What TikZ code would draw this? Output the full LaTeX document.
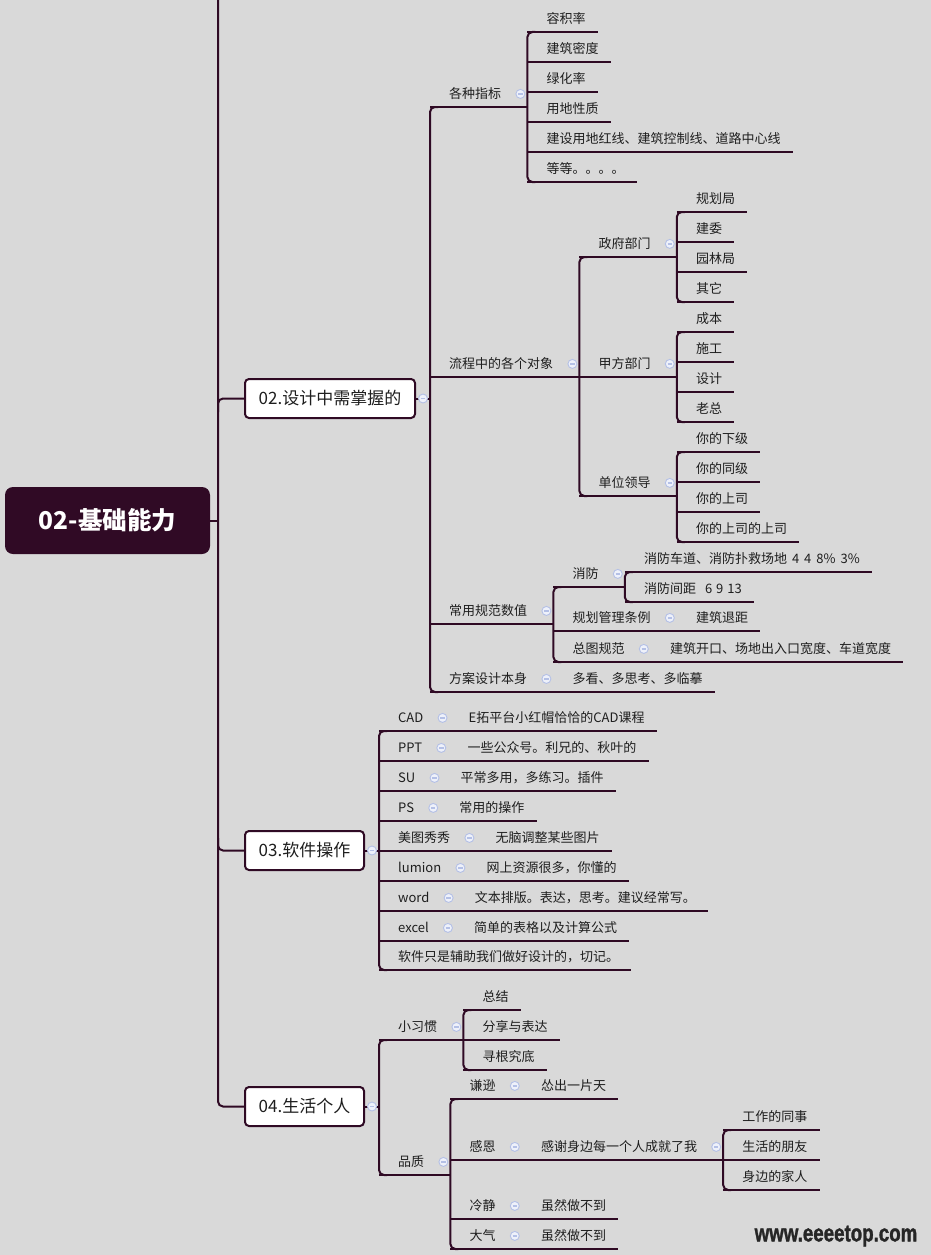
\documentclass[tikz,border=0pt]{standalone}
\usepackage{fontspec}
\usepackage{tikz}
\usetikzlibrary{positioning}
\newfontfamily\cjk{Noto Sans CJK SC}
\newfontfamily\wmfont[BoldFeatures={FakeBold=1.6}]{Liberation Sans}
\definecolor{cBg}   {HTML}{D9D9D9}
\definecolor{cLine} {HTML}{2F0A24}
\definecolor{cRoot} {HTML}{300A25}
\definecolor{cTxt}  {HTML}{1E1E1E}
\definecolor{cFold} {HTML}{B4C0E6}
\definecolor{cFoldIn}{HTML}{EEF1FA}
\tikzset{
  br/.style    ={draw=cLine,line width=2pt},
  brk/.style   ={br,rounded corners=5pt},
  lbl/.style   ={font=\cjk\fontsize{13}{15}\selectfont,text=cTxt,anchor=south west,
                 inner xsep=0pt,inner ysep=5pt,text height=10pt,text depth=3pt},
  ul/.style    ={lbl,execute at begin node={\hspace*{19pt}},
                 append after command={(\tikzlastnode.south west) edge[br] (\tikzlastnode.south east)}},
  leaf/.style  ={ul,execute at end node={\hspace*{12pt}}},
  sub/.style   ={ul,execute at end node={\hspace*{26pt}}},
  topic/.style ={draw=cLine,fill=white,line width=2pt,rounded corners=4pt,inner xsep=4pt,
                 font=\cjk\fontsize{17}{20}\selectfont,text=cTxt,minimum height=39pt},
  root/.style  ={fill=cRoot,text=white,rounded corners=8pt,minimum width=205pt,minimum height=67pt,
                 font=\cjk\bfseries\fontsize{24.5}{28}\selectfont},
  fold/.style  ={circle,draw=cFold,fill=cFoldIn,line width=0.9pt,minimum size=9pt,inner sep=0pt,
                 path picture={\draw[cFold,line width=1.2pt]
                   ([xshift=2.3pt]path picture bounding box.west) --
                   ([xshift=-2.3pt]path picture bounding box.east);}},
  wm/.style    ={font=\wmfont\bfseries\fontsize{24}{26}\selectfont,text=black!85,inner sep=0pt},
}

\begin{document}
\begin{tikzpicture}[x=1pt,y=-1pt]
\useasboundingbox[fill=cBg] (0,0) rectangle (931,1255);

% root, trunk and the three main topics
\coordinate (tk) at (218,-4);
\node[root] (rt) at (107.5,520.5) {02-基础能力};
\node[topic,minimum width=170pt] (t2) at (330,398.5)  {02.设计中需掌握的};
\node[topic,minimum width=119pt] (t3) at (304.5,850.5) {03.软件操作};
\node[topic,minimum width=119pt] (t4) at (304.5,1106.5) {04.生活个人};
\draw[brk] (tk) -- (tk |- t4.west) -- (t4.west);
\draw[br]  (rt.east) -- (rt.east -| tk);
\draw[brk] (tk |- 0,412) -- (tk |- t2.west) -- (t2.west);
\draw[brk] (tk |- 0,838) -- (tk |- t3.west) -- (t3.west);

% 02: indices
\node[sub]  (zb) at (430,107) {各种指标};
\node[leaf] (rj) at (zb.south east |- 0,32)  {容积率};
\node[leaf] (md) at (zb.south east |- 0,62)  {建筑密度};
\node[leaf] (lh) at (zb.south east |- 0,92)  {绿化率};
\node[leaf] (xz) at (zb.south east |- 0,122) {用地性质};
\node[leaf] (hx) at (zb.south east |- 0,152) {建设用地红线、建筑控制线、道路中心线};
\node[leaf] (dd) at (zb.south east |- 0,182) {等等。。。。};
\draw[brk] ([xshift=8pt]rj.south west) -- (rj.south west) -- (dd.south west) -- ([xshift=8pt]dd.south west);

% 02: parties in the process
\node[sub]  (lc)  at (430,377) {流程中的各个对象};
\node[sub]  (zf)  at (lc.south east |- 0,257) {政府部门};
\node[sub]  (jf)  at (lc.south east) {甲方部门};
\node[sub]  (dw)  at (lc.south east |- 0,496) {单位领导};
\draw[brk] ([xshift=8pt]zf.south west) -- (zf.south west) -- (dw.south west) -- ([xshift=8pt]dw.south west);
\node[leaf] (gj)  at (zf.south east |- 0,212) {规划局};
\node[leaf] (jw)  at (zf.south east |- 0,242) {建委};
\node[leaf] (yl)  at (zf.south east |- 0,272) {园林局};
\node[leaf] (qt)  at (zf.south east |- 0,302) {其它};
\draw[brk] ([xshift=8pt]gj.south west) -- (gj.south west) -- (qt.south west) -- ([xshift=8pt]qt.south west);
\node[leaf] (cb)  at (jf.south east |- 0,332) {成本};
\node[leaf] (sg)  at (jf.south east |- 0,362) {施工};
\node[leaf] (sj)  at (jf.south east |- 0,392) {设计};
\node[leaf] (lz)  at (jf.south east |- 0,422) {老总};
\draw[brk] ([xshift=8pt]cb.south west) -- (cb.south west) -- (lz.south west) -- ([xshift=8pt]lz.south west);
\node[leaf] (xj)  at (dw.south east |- 0,452) {你的下级};
\node[leaf] (tj)  at (dw.south east |- 0,482) {你的同级};
\node[leaf] (ss)  at (dw.south east |- 0,512) {你的上司};
\node[leaf] (sss) at (dw.south east |- 0,542) {你的上司的上司};
\draw[brk] ([xshift=8pt]xj.south west) -- (xj.south west) -- (sss.south west) -- ([xshift=8pt]sss.south west);

% 02: code values
\node[sub]  (cy) at (430,624) {常用规范数值};
\node[sub]  (xf) at (cy.south east |- 0,587) {消防};
\node[leaf] (cd) at (xf.south east |- 0,572)
  {消防车道、消防扑救场地\hspace{5pt}4\hspace{5pt}4\hspace{5pt}8\%\hspace{5pt}3\%};
\node[leaf] (jj) at (xf.south east |- 0,602) {消防间距\hspace{9pt}6\hspace{4pt}9\hspace{4pt}13};
\draw[brk] ([xshift=8pt]cd.south west) -- (cd.south west) -- (jj.south west) -- ([xshift=8pt]jj.south west);
\node[sub]  (gh) at (cy.south east |- 0,631) {规划管理条例};
\node[leaf] (tjl) at (gh.south east) {建筑退距};
\node[sub]  (zt) at (cy.south east |- 0,662) {总图规范};
\node[leaf] (kk) at (zt.south east) {建筑开口、场地出入口宽度、车道宽度};
\draw[brk] ([xshift=8pt]xf.south west) -- (xf.south west) -- (zt.south west) -- ([xshift=8pt]zt.south west);
\node[sub]  (fa) at (430,692) {方案设计本身};
\node[leaf] (dk) at (fa.south east) {多看、多思考、多临摹};
\draw[brk] ([xshift=8pt]zb.south west) -- (zb.south west) -- (fa.south west) -- ([xshift=8pt]fa.south west);
\draw[br] (t2.east) -- (t2.east -| zb.south west);

% 03: software
\node[sub]  (cad)  at (379,731) {CAD};
\node[leaf] (cadx) at (cad.south east) {E拓平台小红帽恰恰的CAD课程};
\node[sub]  (ppt)  at (379,761) {PPT};
\node[leaf] (pptx) at (ppt.south east) {一些公众号。利兄的、秋叶的};
\node[sub]  (su)   at (379,791) {SU};
\node[leaf] (sux)  at (su.south east) {平常多用，多练习。插件};
\node[sub]  (ps)   at (379,821) {PS};
\node[leaf] (psx)  at (ps.south east) {常用的操作};
\node[sub]  (mt)   at (379,851) {美图秀秀};
\node[leaf] (mtx)  at (mt.south east) {无脑调整某些图片};
\node[sub]  (lu)   at (379,881) {lumion};
\node[leaf] (lux)  at (lu.south east) {网上资源很多，你懂的};
\node[sub]  (wd)   at (379,911) {word};
\node[leaf] (wdx)  at (wd.south east) {文本排版。表达，思考。建议经常写。};
\node[sub]  (ex)   at (379,941) {excel};
\node[leaf] (exx)  at (ex.south east) {简单的表格以及计算公式};
\node[leaf] (note) at (379,970) {软件只是辅助我们做好设计的，切记。};
\draw[brk] ([xshift=8pt]cad.south west) -- (cad.south west) -- (note.south west) -- ([xshift=8pt]note.south west);
\draw[br] (t3.east) -- (t3.east -| cad.south west);

% 04: personal habits and qualities
\node[sub]  (xg)  at (379,1040) {小习惯};
\node[leaf] (zj)  at (xg.south east |- 0,1010) {总结};
\node[leaf] (fx)  at (xg.south east |- 0,1040) {分享与表达};
\node[leaf] (xgd) at (xg.south east |- 0,1070) {寻根究底};
\draw[brk] ([xshift=8pt]zj.south west) -- (zj.south west) -- (xgd.south west) -- ([xshift=8pt]xgd.south west);
\node[sub]  (pz)  at (379,1175) {品质};
\node[sub]  (qx)  at (pz.south east |- 0,1099) {谦逊};
\node[leaf] (qxx) at (qx.south east) {怂出一片天};
\node[sub]  (ge)  at (pz.south east |- 0,1160) {感恩};
\node[sub]  (gex) at (ge.south east) {感谢身边每一个人成就了我};
\node[leaf] (ts)  at (gex.south east |- 0,1130) {工作的同事};
\node[leaf] (py)  at (gex.south east |- 0,1160) {生活的朋友};
\node[leaf] (jr)  at (gex.south east |- 0,1190) {身边的家人};
\draw[brk] ([xshift=8pt]ts.south west) -- (ts.south west) -- (jr.south west) -- ([xshift=8pt]jr.south west);
\node[sub]  (lj)  at (pz.south east |- 0,1219) {冷静};
\node[leaf] (ljx) at (lj.south east) {虽然做不到};
\node[sub]  (dq)  at (pz.south east |- 0,1249) {大气};
\node[leaf] (dqx) at (dq.south east) {虽然做不到};
\draw[brk] ([xshift=8pt]qx.south west) -- (qx.south west) -- (dq.south west) -- ([xshift=8pt]dq.south west);
\draw[brk] ([xshift=8pt]xg.south west) -- (xg.south west) -- (pz.south west) -- ([xshift=8pt]pz.south west);
\draw[br] (t4.east) -- (t4.east -| xg.south west);

% fold markers
\node[fold] (f-t2)  at ([xshift=7pt]t2.east) {};
\node[fold] (f-t3)  at ([xshift=7pt]t3.east) {};
\node[fold] (f-t4)  at ([xshift=7pt]t4.east) {};
\node[fold] (f-zb)  at ([xshift=-7pt,yshift=1.4pt]zb.east) {};
\node[fold] (f-lc)  at ([xshift=-7pt,yshift=1.4pt]lc.east) {};
\node[fold] (f-zf)  at ([xshift=-7pt,yshift=1.4pt]zf.east) {};
\node[fold] (f-jf)  at ([xshift=-7pt,yshift=1.4pt]jf.east) {};
\node[fold] (f-dw)  at ([xshift=-7pt,yshift=1.4pt]dw.east) {};
\node[fold] (f-cy)  at ([xshift=-7pt,yshift=1.4pt]cy.east) {};
\node[fold] (f-xf)  at ([xshift=-7pt,yshift=1.4pt]xf.east) {};
\node[fold] (f-gh)  at ([xshift=-7pt,yshift=1.4pt]gh.east) {};
\node[fold] (f-zt)  at ([xshift=-7pt,yshift=1.4pt]zt.east) {};
\node[fold] (f-fa)  at ([xshift=-7pt,yshift=1.4pt]fa.east) {};
\node[fold] (f-cad) at ([xshift=-7pt,yshift=1.4pt]cad.east) {};
\node[fold] (f-ppt) at ([xshift=-7pt,yshift=1.4pt]ppt.east) {};
\node[fold] (f-su)  at ([xshift=-7pt,yshift=1.4pt]su.east) {};
\node[fold] (f-ps)  at ([xshift=-7pt,yshift=1.4pt]ps.east) {};
\node[fold] (f-mt)  at ([xshift=-7pt,yshift=1.4pt]mt.east) {};
\node[fold] (f-lu)  at ([xshift=-7pt,yshift=1.4pt]lu.east) {};
\node[fold] (f-wd)  at ([xshift=-7pt,yshift=1.4pt]wd.east) {};
\node[fold] (f-ex)  at ([xshift=-7pt,yshift=1.4pt]ex.east) {};
\node[fold] (f-xg)  at ([xshift=-7pt,yshift=1.4pt]xg.east) {};
\node[fold] (f-pz)  at ([xshift=-7pt,yshift=1.4pt]pz.east) {};
\node[fold] (f-qx)  at ([xshift=-7pt,yshift=1.4pt]qx.east) {};
\node[fold] (f-ge)  at ([xshift=-7pt,yshift=1.4pt]ge.east) {};
\node[fold] (f-gex) at ([xshift=-7pt,yshift=1.4pt]gex.east) {};
\node[fold] (f-lj)  at ([xshift=-7pt,yshift=1.4pt]lj.east) {};
\node[fold] (f-dq)  at ([xshift=-7pt,yshift=1.4pt]dq.east) {};

% watermark
\node[wm] (wmk) at (836,1236) {\scalebox{0.78}[1]{www.eeeetop.com}};
\end{tikzpicture}
\end{document}
